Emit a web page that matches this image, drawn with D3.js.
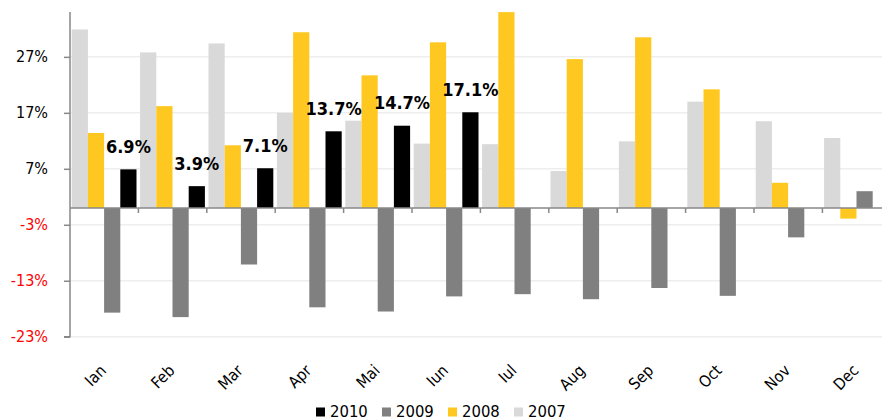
<!DOCTYPE html>
<html><head><meta charset="utf-8">
<script src="https://cdn.jsdelivr.net/npm/d3@7"></script>
<style>
html,body{margin:0;padding:0;background:#fff;}
svg{display:block;}
text{font-family:"DejaVu Sans Condensed","DejaVu Sans",sans-serif;font-stretch:condensed;}
</style></head>
<body>
<svg id="chart" width="882" height="418"></svg>
<script>
const months = ["Ian","Feb","Mar","Apr","Mai","Iun","Iul","Aug","Sep","Oct","Nov","Dec"];
const seriesNames = ["2007","2008","2009","2010"];
const v2007 = [31.9,27.8,29.4,17.0,15.6,11.5,11.4,6.6,11.9,19.0,15.5,12.5];
const v2008 = [13.4,18.2,11.2,31.4,23.7,29.6,35.0,26.6,30.5,21.2,4.5,-1.9];
const v2009 = [-18.7,-19.5,-10.1,-17.75,-18.5,-15.8,-15.4,-16.3,-14.3,-15.7,-5.25,3.0];
const v2010 = [6.9,3.9,7.1,13.7,14.7,17.1,null,null,null,null,null,null];
const yTicks = [-23,-13,-3,7,17,27];
const legendOrder = ["2010","2009","2008","2007"];
const colors = {"2007":"#d9d9d9","2008":"#ffc820","2009":"#808080","2010":"#000000"};

const seriesValues = {"2007":v2007,"2008":v2008,"2009":v2009,"2010":v2010};

const svg = d3.select("#chart");
const mLeft = 70, mRight = 890.8, mTop = 12.1, mBottom = 336.7;

const x = d3.scaleBand().domain(months).range([mLeft, mRight]).padding(0);
const xs = d3.scaleBand().domain(seriesNames).range([1.7, x.bandwidth() - 1.9]).padding(0);
const y = d3.scaleLinear().domain([-23, 35]).range([mBottom, mTop]);

// gridlines
svg.append("g").selectAll("line").data(yTicks).join("line")
  .attr("x1", mLeft).attr("x2", 882)
  .attr("y1", d => y(d)).attr("y2", d => y(d))
  .attr("stroke", "#eeeeee").attr("stroke-width", 1.5);

// bars
const flat = [];
months.forEach((m, i) => {
  seriesNames.forEach(s => {
    const v = seriesValues[s][i];
    if (v !== null && v !== undefined) flat.push({m, s, v});
  });
});
svg.append("g").selectAll("rect").data(flat).join("rect")
  .attr("x", d => x(d.m) + xs(d.s))
  .attr("width", xs.bandwidth())
  .attr("y", d => y(Math.max(0, d.v)))
  .attr("height", d => Math.abs(y(d.v) - y(0)))
  .attr("fill", d => colors[d.s]);

// data labels for 2010
svg.append("g").selectAll("text").data(flat.filter(d => d.s === "2010")).join("text")
  .attr("x", d => x(d.m) + xs("2010") + xs.bandwidth() / 2)
  .attr("y", d => y(d.v) - 16.5)
  .attr("text-anchor", "middle")
  .attr("font-size", 18).attr("font-weight", "bold").attr("fill", "#000")
  .text(d => d.v.toFixed(1) + "%");

// y axis
const yAxis = d3.axisLeft(y).tickValues(yTicks).tickSize(6).tickPadding(16)
  .tickFormat(d => d + "%");
const gy = svg.append("g").attr("transform", `translate(${mLeft},0)`).call(yAxis);
gy.select(".domain").attr("stroke", "#888").attr("stroke-width", 1.5).attr("d", `M0,${mTop}V${mBottom}H-6`);
gy.selectAll(".tick line").attr("stroke", "#888").attr("stroke-width", 1.5);
gy.selectAll(".tick text").attr("font-size", 16)
  .style("font-family", '"DejaVu Sans Condensed","DejaVu Sans",sans-serif')
  .attr("fill", d => d < 0 ? "#ff0000" : "#000");

// zero axis with category boundary ticks
const gx = svg.append("g");
gx.append("line").attr("x1", mLeft).attr("x2", 882).attr("y1", y(0)).attr("y2", y(0))
  .attr("stroke", "#888").attr("stroke-width", 1.5);
gx.selectAll("line.tk").data(months.slice(1)).join("line").attr("class", "tk")
  .attr("x1", d => x(d)).attr("x2", d => x(d))
  .attr("y1", y(0)).attr("y2", y(0) + 5)
  .attr("stroke", "#888").attr("stroke-width", 1.5);

// category labels
svg.append("g").selectAll("text").data(months).join("text")
  .attr("transform", d => `translate(${x(d) + x.bandwidth() / 2 + 3},371.5) rotate(-45)`)
  .attr("text-anchor", "end").attr("font-size", 16).attr("fill", "#000")
  .text(d => d);

// legend
const lg = svg.append("g").selectAll("g").data(legendOrder).join("g")
  .attr("transform", (d, i) => `translate(${316 + i * 66},0)`);
lg.append("rect").attr("x", 0).attr("y", 407.5).attr("width", 9).attr("height", 9)
  .attr("fill", d => colors[d]);
lg.append("text").attr("x", 14).attr("y", 416.5).attr("font-size", 16.5).attr("fill", "#000")
  .text(d => d);
</script>
</body></html>
